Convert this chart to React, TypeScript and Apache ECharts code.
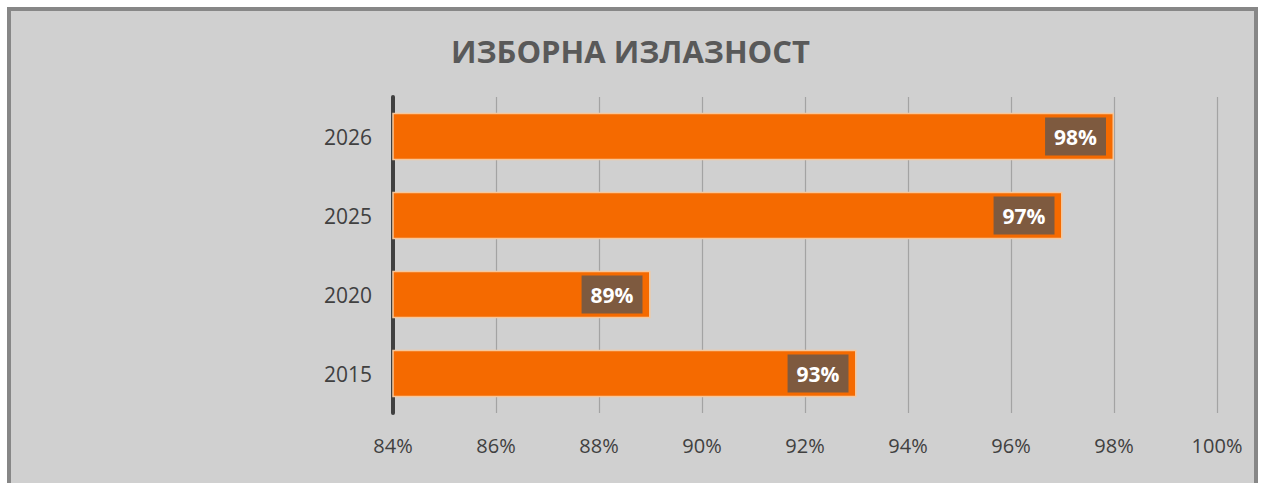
import React, { useEffect, useRef } from "react";
import * as echarts from "echarts";

const title = "ИЗБОРНА ИЗЛАЗНОСТ";
const years = ["2015", "2020", "2025", "2026"];
const turnout = [93, 89, 97, 98];
const axisMin = 84;
const axisMax = 100;
const axisStep = 2;

export default function App() {
  const ref = useRef<HTMLDivElement>(null);
  useEffect(() => {
    if (!ref.current) return;
    const chart = echarts.init(ref.current, null, { renderer: "svg" });
    chart.setOption({
      animation: false,
      textStyle: { fontFamily: "Open Sans" },
      graphic: [
        {
          type: "rect",
          z: -10,
          silent: true,
          shape: { x: 9, y: 9, width: 1247, height: 500 },
          style: { fill: "#d0d0d0", stroke: "#878787", lineWidth: 4 },
        },
      ],
      title: {
        text: title,
        left: "center",
        top: 30,
        textStyle: {
          fontFamily: "Open Sans",
          fontWeight: "bold",
          fontSize: 31,
          color: "#595959",
        },
      },
      grid: { left: 393, right: 44, top: 97, bottom: 70, containLabel: false },
      xAxis: {
        type: "value",
        min: axisMin,
        max: axisMax,
        interval: axisStep,
        axisLine: { show: false },
        axisTick: { show: false },
        splitLine: { show: true, lineStyle: { color: "#a3a3a3", width: 1.2 } },
        axisLabel: {
          formatter: "{value}%",
          fontSize: 20,
          color: "#404040",
          margin: 22,
          fontFamily: "Open Sans",
        },
      },
      yAxis: {
        type: "category",
        data: years,
        axisLine: { show: true, lineStyle: { color: "#404040", width: 4 } },
        axisTick: { show: false },
        axisLabel: {
          fontSize: 21,
          color: "#404040",
          margin: 21,
          fontFamily: "Open Sans",
        },
      },
      series: [
        {
          type: "bar",
          data: turnout,
          barCategoryGap: "40%",
          itemStyle: { color: "#f56a00", borderColor: "#f5c79c", borderWidth: 1.5 },
          label: {
            show: true,
            position: "insideRight",
            distance: 8,
            formatter: "{c}%",
            color: "#ffffff",
            fontWeight: "bold",
            fontSize: 21,
            lineHeight: 24,
            fontFamily: "Open Sans",
            backgroundColor: "#7e5a3f",
            padding: [8, 9, 6, 9],
          },
        },
      ],
    });
    return () => chart.dispose();
  }, []);
  return (
    <div
      ref={ref}
      style={{ position: "absolute", left: 0, top: 0, width: 1261, height: 483 }}
    />
  );
}
